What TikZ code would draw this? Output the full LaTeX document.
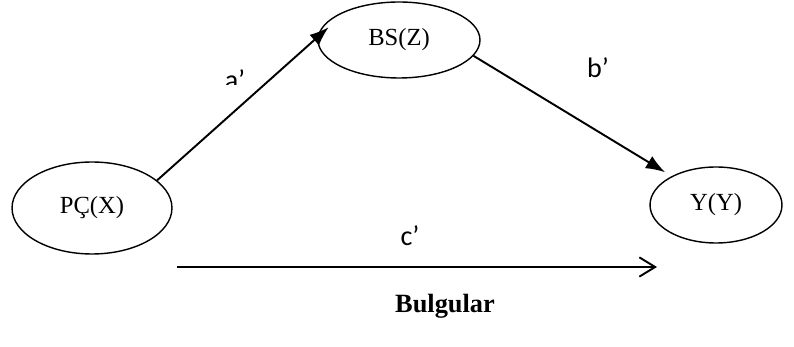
\documentclass[tikz,border=0pt]{standalone}
\usepackage{fontspec}
\setmainfont{Liberation Serif}
\newfontfamily\labelfont{Carlito}
\usetikzlibrary{shapes.geometric,arrows.meta}

\begin{document}
\begin{tikzpicture}[x=0.02cm,y=-0.02cm,%%
  ovalStyle/.style={ellipse,draw,line width=0.8pt,inner sep=0pt,font=\fontsize{14}{16}\selectfont},%%
  pathStyle/.style={line width=1.1pt,-{Latex[length=11pt,width=8pt]}},%%
  directStyle/.style={line width=1.1pt,-{Straight Barb[length=9pt,width=11pt,line width=1.1pt]}},%%
  letterStyle/.style={inner sep=0pt,font=\labelfont\fontsize{16}{18}\selectfont}%%
]
\useasboundingbox (0,0) rectangle (794,347);
%%
%% Positions of the variables.
\coordinate (Predictor) at (92,208);
\coordinate (Mediator) at (399,40);
\coordinate (Outcome) at (716,205);
\coordinate (cStart) at (177,267);
\coordinate (cEnd) at (657,267);
%%
%% Nodes of the mediation model.
\node (PX) at (Predictor) [ovalStyle,minimum width=3.2cm,minimum height=1.84cm] {P\c{C}(X)};
\node (BS) at (Mediator) [ovalStyle,minimum width=3.24cm,minimum height=1.52cm] {BS(Z)};
\node (YY) at (Outcome) [ovalStyle,minimum width=2.64cm,minimum height=1.52cm] {Y(Y)};
%%
%% Paths between the nodes.
\draw[pathStyle,shorten >=-0.3cm] (PX.23) -- (BS.178);
\draw[pathStyle,shorten >=0.15cm] (BS.-12) -- (YY.147);
\draw[directStyle] (cStart) -- (cEnd);
%%
%% Path labels.
\begin{scope}
  \clip (200,60) rectangle (270,85);
  \node (aLabel) at (235,80) [letterStyle] {a’};
\end{scope}
\node (bLabel) at (598,68) [letterStyle] {b’};
\node (cLabel) at (410,236) [letterStyle] {c’};
\node (Title) at (445,306) [inner sep=0pt,font=\bfseries\fontsize{15}{18}\selectfont] {Bulgular};
\end{tikzpicture}
\end{document}
